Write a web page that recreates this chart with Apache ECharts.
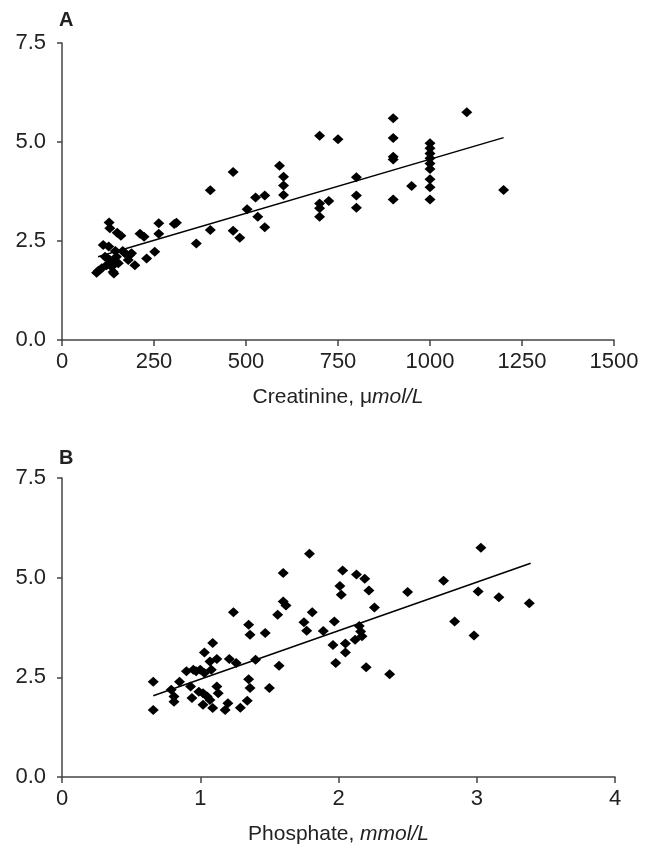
<!DOCTYPE html>
<html>
<head>
<meta charset="utf-8">
<title>Creatinine / Phosphate</title>
<script src="https://cdn.jsdelivr.net/npm/echarts@6/dist/echarts.min.js"></script>
<style>
  html, body { margin: 0; padding: 0; background: #fff; }
  #main { width: 655px; height: 850px; }
</style>
</head>
<body>
<div id="main"></div>
<script>
// panel A: creatinine (umol/L) vs y
var creatPoints = [
  [94,1.70],[99,1.75],[108,1.81],[112,2.40],[117,2.10],[121,1.89],[125,2.05],[127,2.36],
  [128,2.97],[130,2.82],[130,2.02],[135,1.85],[139,1.72],[140,1.95],[141,1.68],[145,2.25],
  [148,2.10],[150,2.71],[153,1.94],[160,2.63],[165,2.25],[171,2.19],[180,2.02],[185,2.15],
  [189,2.19],[198,1.89],[212,2.68],[223,2.61],[230,2.06],[252,2.23],[263,2.95],[263,2.68],
  [305,2.93],[311,2.96],[365,2.44],[403,3.78],[403,2.78],[465,4.24],[465,2.76],[483,2.58],
  [503,3.30],[526,3.60],[532,3.11],[551,3.65],[551,2.85],[591,4.40],[602,4.12],[602,3.90],
  [602,3.66],[700,5.16],[700,3.45],[700,3.33],[700,3.11],[725,3.51],[750,5.07],[800,4.11],
  [800,3.65],[800,3.34],[900,5.60],[900,5.10],[900,4.63],[900,4.56],[900,3.55],[950,3.89],
  [1000,4.97],[1000,4.84],[1000,4.71],[1000,4.59],[1000,4.46],[1000,4.32],[1000,4.06],
  [1000,3.86],[1000,3.55],[1100,5.75],[1200,3.79]
];
var creatFit = [[98,2.10],[1200,5.11]];

// panel B: phosphate (mmol/L) vs y
var phosPoints = [
  [0.66,2.39],[0.66,1.68],[0.79,2.19],[0.81,2.02],[0.81,1.89],[0.85,2.39],[0.90,2.65],
  [0.93,2.27],[0.94,1.98],[0.95,2.69],[0.97,2.65],[0.99,2.14],[1.00,2.69],[1.02,2.10],
  [1.02,1.81],[1.03,3.12],[1.03,2.61],[1.05,2.02],[1.07,2.90],[1.07,1.93],[1.08,2.69],
  [1.09,3.36],[1.09,1.73],[1.12,2.96],[1.12,2.27],[1.13,2.10],[1.18,1.68],[1.20,1.85],
  [1.21,2.96],[1.24,4.13],[1.26,2.86],[1.29,1.74],[1.34,1.91],[1.35,3.82],[1.35,2.45],
  [1.36,3.57],[1.36,2.23],[1.40,2.94],[1.47,3.61],[1.50,2.23],[1.56,4.07],[1.57,2.79],
  [1.60,5.12],[1.60,4.40],[1.62,4.30],[1.75,3.88],[1.77,3.67],[1.79,5.60],[1.81,4.13],
  [1.89,3.66],[1.96,3.31],[1.97,3.90],[1.98,2.86],[2.01,4.79],[2.02,4.57],[2.03,5.18],
  [2.05,3.12],[2.05,3.35],[2.12,3.44],[2.13,5.08],[2.15,3.79],[2.16,3.65],[2.17,3.53],
  [2.19,4.97],[2.20,2.75],[2.22,4.68],[2.26,4.25],[2.37,2.58],[2.50,4.64],[2.76,4.92],
  [2.84,3.90],[2.98,3.55],[3.01,4.65],[3.03,5.75],[3.16,4.51],[3.38,4.36]
];
var phosFit = [[0.66,2.04],[3.39,5.36]];

var yTicks = [0, 2.5, 5, 7.5];

var font = 'Liberation Sans, Arial, sans-serif';
var textColor = '#222';
var axisColor = '#444';

function makeXAxis(idx, max, interval, name, rich){
  return {
    gridIndex: idx,
    type: 'value',
    min: 0,
    max: max,
    interval: interval,
    name: name,
    nameLocation: 'middle',
    nameGap: 47,
    nameTextStyle: { color: textColor, fontSize: 21, fontFamily: font, rich: rich },
    splitLine: { show: false },
    axisLine: { onZero: false, lineStyle: { color: axisColor, width: 1.5 } },
    axisTick: { inside: false, length: 6, lineStyle: { color: axisColor, width: 1.5 } },
    axisLabel: {
      color: textColor, fontSize: 22, fontFamily: font, margin: 11,
      formatter: function(v){ return String(v); }
    }
  };
}

function makeYAxis(idx){
  return {
    gridIndex: idx,
    type: 'value',
    min: yTicks[0],
    max: yTicks[yTicks.length - 1],
    interval: 2.5,
    splitLine: { show: false },
    axisLine: { onZero: false, lineStyle: { color: axisColor, width: 1.5 } },
    axisTick: { length: 5, lineStyle: { color: axisColor, width: 1.5 } },
    axisLabel: {
      color: textColor, fontSize: 22, fontFamily: font, margin: 16,
      formatter: function(v){ return v.toFixed(1); }
    }
  };
}

var italic = { i: { fontStyle: 'italic', fontSize: 21, fontFamily: font, color: textColor } };

var myChart = echarts.init(document.getElementById('main'), null, { renderer: 'canvas' });
var option = {
  backgroundColor: '#fff',
  animation: false,
  title: [
    { text: 'A', left: 54, top: 5, textStyle: { fontSize: 20, fontWeight: 'bold', color: textColor, fontFamily: font } },
    { text: 'B', left: 54, top: 443, textStyle: { fontSize: 20, fontWeight: 'bold', color: textColor, fontFamily: font } }
  ],
  grid: [
    { left: 62, top: 43, width: 552, height: 297 },
    { left: 62, top: 478, width: 553, height: 299 }
  ],
  xAxis: [
    makeXAxis(0, 1500, 250, 'Creatinine, μ{i|mol/L}', italic),
    makeXAxis(1, 4, 1, 'Phosphate, {i|mmol/L}', italic)
  ],
  yAxis: [makeYAxis(0), makeYAxis(1)],
  series: [
    {
      type: 'scatter', xAxisIndex: 0, yAxisIndex: 0,
      symbol: 'diamond', symbolSize: [11, 10],
      itemStyle: { color: '#000', opacity: 1 },
      data: creatPoints
    },
    {
      type: 'line', xAxisIndex: 0, yAxisIndex: 0,
      symbol: 'none', lineStyle: { color: '#000', width: 1.5 },
      data: creatFit
    },
    {
      type: 'scatter', xAxisIndex: 1, yAxisIndex: 1,
      symbol: 'diamond', symbolSize: [11, 10],
      itemStyle: { color: '#000', opacity: 1 },
      data: phosPoints
    },
    {
      type: 'line', xAxisIndex: 1, yAxisIndex: 1,
      symbol: 'none', lineStyle: { color: '#000', width: 1.5 },
      data: phosFit
    }
  ]
};
myChart.setOption(option);
</script>
</body>
</html>
